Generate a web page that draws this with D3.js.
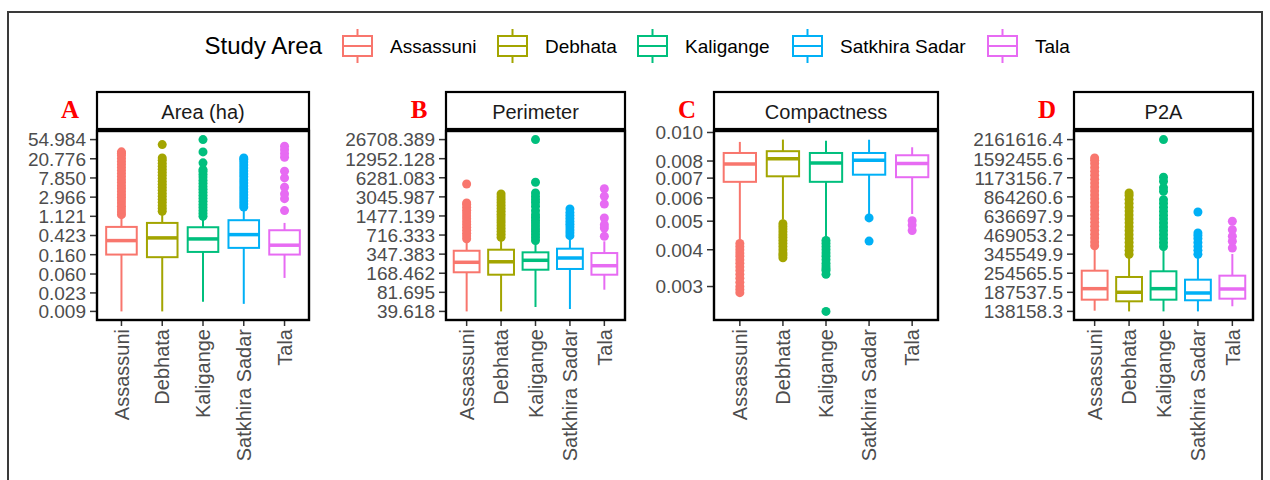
<!DOCTYPE html>
<html>
<head>
<meta charset="utf-8">
<script src="https://cdn.jsdelivr.net/npm/d3@7"></script>
<style>
body { margin: 0; background: #fff; }
text { font-family: "Liberation Sans", Arial, sans-serif; }
</style>
</head>
<body>
<svg id="chart" width="1270" height="480"></svg>
<script>
// categories and colours (ggplot default hue palette)
var groups = ["Assassuni", "Debhata", "Kaligange", "Satkhira Sadar", "Tala"];
var colors = ["#F8766D", "#A3A500", "#00BF7D", "#00B0F6", "#E76BF3"];

// tick labels for each facet
var areaTicks = ["54.984", "20.776", "7.850", "2.966", "1.121", "0.423", "0.160", "0.060", "0.023", "0.009"];
var perimTicks = ["26708.389", "12952.128", "6281.083", "3045.987", "1477.139", "716.333", "347.383", "168.462", "81.695", "39.618"];
var compTicks = ["0.010", "0.008", "0.007", "0.006", "0.005", "0.004", "0.003"];
var p2aTicks = ["2161616.4", "1592455.6", "1173156.7", "864260.6", "636697.9", "469053.2", "345549.9", "254565.5", "187537.5", "138158.3"];

// box stats: [lower whisker, q1, median, q3, upper whisker]
var areaStats = [
	[0.009, 0.161, 0.327, 0.655, 1.127],
	[0.009, 0.141, 0.375, 0.802, 1.33],
	[0.0146, 0.184, 0.356, 0.644, 1.03],
	[0.0132, 0.226, 0.443, 0.920, 1.66],
	[0.0492, 0.161, 0.259, 0.553, 0.802]
];
var areaOut = [
	[1.22, 1.4, 1.62, 1.88, 2.2, 2.55, 2.95, 3.4, 3.95, 4.6, 5.3, 6.2, 7.2, 8.4, 9.8, 11.4, 13.3, 15.5, 18.0, 21.0, 24.5, 27.5, 29.5],
	[1.45, 1.68, 1.95, 2.3, 2.65, 3.1, 3.6, 4.2, 4.9, 5.7, 6.6, 7.7, 9.0, 10.5, 12.2, 14.2, 16.5, 19.2, 21.7, 42.7],
	[1.12, 1.3, 1.5, 1.75, 2.05, 2.4, 2.8, 3.25, 3.8, 4.4, 5.1, 6.0, 7.0, 8.2, 9.5, 11.0, 12.0, 16.9, 29.4, 54.984],
	[1.8, 2.1, 2.45, 2.85, 3.3, 3.85, 4.5, 5.2, 6.1, 7.1, 8.3, 9.6, 11.2, 13.0, 15.2, 17.7, 20.0, 21.7],
	[1.5, 2.75, 3.49, 4.91, 7.87, 11.1, 22.5, 27.0, 33.0, 39.3]
];

var perimStats = [
	[39.618, 174.6, 255, 395, 565],
	[39.618, 159.3, 260, 411, 600],
	[46.8, 192.5, 275, 372, 530],
	[43.4, 198, 300, 427, 640],
	[90.2, 159.3, 224, 362, 565]
];
var perimOut = [
	[620, 690, 770, 860, 960, 1070, 1190, 1330, 1480, 1650, 1840, 2050, 2280, 2415, 4960],
	[660, 735, 820, 915, 1020, 1140, 1270, 1420, 1580, 1760, 1960, 2190, 2440, 2720, 3030, 3396],
	[580, 650, 725, 810, 905, 1010, 1130, 1260, 1400, 1549, 1800, 2130, 2450, 2735, 3100, 3525, 5290, 26708.389],
	[700, 780, 870, 970, 1080, 1200, 1340, 1500, 1680, 1923],
	[683, 935, 1060, 1368, 2323, 3112, 4150]
];

var compStats = [
	[0.00433, 0.00680, 0.00782, 0.00852, 0.00929],
	[0.00506, 0.00710, 0.00815, 0.00864, 0.00946],
	[0.00439, 0.00680, 0.00788, 0.00852, 0.00938],
	[0.0052, 0.00719, 0.00805, 0.00852, 0.00945],
	[0.00529, 0.00705, 0.00784, 0.00837, 0.00891]
];
var compOut = [
	[0.0042, 0.0041, 0.0040, 0.0039, 0.0038, 0.0037, 0.0036, 0.0035, 0.0034, 0.0033, 0.0032, 0.0031, 0.0030, 0.00293, 0.00286],
	[0.0049, 0.0048, 0.0047, 0.0046, 0.0045, 0.0044, 0.0043, 0.0042, 0.0041, 0.0040, 0.0039, 0.00383, 0.003755],
	[0.0043, 0.0042, 0.0041, 0.0040, 0.0039, 0.0038, 0.0037, 0.0036, 0.00352, 0.00345, 0.0034, 0.0033, 0.00247],
	[0.00513, 0.00428],
	[0.00502, 0.00485, 0.00465]
];

var p2aStats = [
	[139800, 166700, 198800, 265100, 381300],
	[138158.3, 162400, 187700, 239700, 333900],
	[138200, 166700, 198800, 262600, 377000],
	[138200, 165100, 185500, 229600, 333900],
	[150000, 169400, 197800, 244800, 346400]
];
var p2aOut = [
	[395000, 420000, 447000, 476000, 507000, 540000, 575000, 612000, 652000, 694000, 739000, 787000, 838000, 892000, 950000, 1012000, 1078000, 1148000, 1222000, 1301000, 1385000, 1475000, 1550000, 1609000],
	[345000, 367000, 391000, 416000, 443000, 472000, 503000, 535000, 570000, 607000, 646000, 688000, 733000, 780000, 831000, 885000, 919300],
	[390000, 415000, 442000, 471000, 502000, 534000, 569000, 606000, 645000, 687000, 731000, 779000, 826000, 945000, 1000000, 1109000, 1182000, 2161616.4],
	[345000, 367000, 391000, 416000, 443000, 465000, 484800, 678500],
	[381300, 424500, 459800, 511000, 584700]
];

// layout
var plotTop = 131, plotBottom = 320, stripTop = 92
var panels = [
	{ name: "Area (ha)", tag: "A", ticks: areaTicks, stats: areaStats, out: areaOut, x0: 97, x1: 309 },
	{ name: "Perimeter", tag: "B", ticks: perimTicks, stats: perimStats, out: perimOut, x0: 446, x1: 625 },
	{ name: "Compactness", tag: "C", ticks: compTicks, stats: compStats, out: compOut, x0: 714, x1: 938 },
	{ name: "P2A", tag: "D", ticks: p2aTicks, stats: p2aStats, out: p2aOut, x0: 1074, x1: 1253 }
]
var legendKeyX = [343, 498, 638, 793, 988]

var svg = d3.select("#chart")

// outer frame
svg.append("rect")
	.attr("x", 8).attr("y", 12)
	.attr("width", 1254).attr("height", 500)
	.attr("fill", "none")
	.attr("stroke", "#3a3a3a")
	.attr("stroke-width", 2)

panels.forEach(function(p) {
	var g = svg.append("g")

	var x = d3.scalePoint().domain(groups).range([p.x0, p.x1]).padding(0.6)
	var bw = x.step() * 0.75

	// y limits: data range, expanded 5% on the log scale
	var all = d3.merge(p.stats.concat(p.out))
	var ext = d3.extent(all).map(Math.log10)
	var pad = (ext[1] - ext[0]) * 0.05
	var y = d3.scaleLog()
		.domain([Math.pow(10, ext[0] - pad), Math.pow(10, ext[1] + pad)])
		.range([plotBottom, plotTop])

	// strip
	g.append("rect")
		.attr("x", p.x0).attr("y", stripTop)
		.attr("width", p.x1 - p.x0).attr("height", plotTop - stripTop - 2)
		.attr("fill", "#fff").attr("stroke", "#000").attr("stroke-width", 2.2)
	g.append("text")
		.attr("x", (p.x0 + p.x1) / 2).attr("y", (stripTop + plotTop) / 2)
		.attr("dy", "0.35em")
		.attr("text-anchor", "middle")
		.attr("font-size", 20)
		.attr("fill", "#1a1a1a")
		.text(p.name)

	// panel letter
	g.append("text")
		.attr("x", p.x0 - 27).attr("y", 118)
		.attr("text-anchor", "middle")
		.style("font-family", "'Liberation Serif', 'Times New Roman', serif")
		.attr("font-weight", "bold")
		.attr("font-size", 25)
		.attr("fill", "#ff0000")
		.text(p.tag)

	// y axis ticks
	p.ticks.forEach(function(t) {
		var ty = y(+t)
		g.append("line")
			.attr("x1", p.x0 - 7).attr("x2", p.x0)
			.attr("y1", ty).attr("y2", ty)
			.attr("stroke", "#333").attr("stroke-width", 1.5)
		g.append("text")
			.attr("x", p.x0 - 11).attr("y", ty)
			.attr("dy", "0.36em")
			.attr("text-anchor", "end")
			.attr("font-size", 19)
			.attr("fill", "#4d4d4d")
			.text(t)
	})

	// x axis ticks + rotated labels
	groups.forEach(function(name) {
		var tx = x(name)
		g.append("line")
			.attr("x1", tx).attr("x2", tx)
			.attr("y1", plotBottom).attr("y2", plotBottom + 6)
			.attr("stroke", "#333").attr("stroke-width", 1.5)
		g.append("text")
			.attr("transform", "translate(" + tx + "," + (plotBottom + 9) + ") rotate(-90)")
			.attr("dy", "0.36em")
			.attr("text-anchor", "end")
			.attr("font-size", 20)
			.attr("fill", "#4d4d4d")
			.text(name)
	})

	// boxes
	groups.forEach(function(name, i) {
		var s = p.stats[i], cx = x(name), col = colors[i]

		g.selectAll(null)
			.data(p.out[i])
			.enter().append("circle")
			.attr("cx", cx)
			.attr("cy", function(d) { return y(d) })
			.attr("r", 4.5)
			.attr("fill", col)

		g.append("line")
			.attr("x1", cx).attr("x2", cx)
			.attr("y1", y(s[0])).attr("y2", y(s[1]))
			.attr("stroke", col).attr("stroke-width", 2)
		g.append("line")
			.attr("x1", cx).attr("x2", cx)
			.attr("y1", y(s[3])).attr("y2", y(s[4]))
			.attr("stroke", col).attr("stroke-width", 2)
		g.append("rect")
			.attr("x", cx - bw / 2).attr("y", y(s[3]))
			.attr("width", bw).attr("height", y(s[1]) - y(s[3]))
			.attr("fill", "#fff")
			.attr("stroke", col).attr("stroke-width", 2)
		g.append("line")
			.attr("x1", cx - bw / 2).attr("x2", cx + bw / 2)
			.attr("y1", y(s[2])).attr("y2", y(s[2]))
			.attr("stroke", col).attr("stroke-width", 3.5)
	})

	// panel border
	g.append("rect")
		.attr("x", p.x0).attr("y", plotTop)
		.attr("width", p.x1 - p.x0).attr("height", plotBottom - plotTop)
		.attr("fill", "none").attr("stroke", "#000").attr("stroke-width", 2.4)
})

// legend
var leg = svg.append("g").attr("transform", "translate(0,46)")
leg.append("text")
	.attr("x", 322).attr("y", 0)
	.attr("dy", "0.35em")
	.attr("text-anchor", "end")
	.attr("font-size", 24)
	.attr("fill", "#000")
	.text("Study Area")

groups.forEach(function(name, i) {
	var k = leg.append("g").attr("transform", "translate(" + legendKeyX[i] + ",0)")
	k.append("line").attr("x1", 14.5).attr("x2", 14.5).attr("y1", -17).attr("y2", 17)
		.attr("stroke", colors[i]).attr("stroke-width", 2)
	k.append("rect").attr("x", 0).attr("y", -10).attr("width", 29).attr("height", 20)
		.attr("fill", "#fff").attr("stroke", colors[i]).attr("stroke-width", 2)
	k.append("line").attr("x1", 0).attr("x2", 29).attr("y1", 0).attr("y2", 0)
		.attr("stroke", colors[i]).attr("stroke-width", 2)
	leg.append("text")
		.attr("x", legendKeyX[i] + 47).attr("y", 0)
		.attr("dy", "0.35em")
		.attr("font-size", 19)
		.attr("fill", "#000")
		.text(name)
})
</script>
</body>
</html>
